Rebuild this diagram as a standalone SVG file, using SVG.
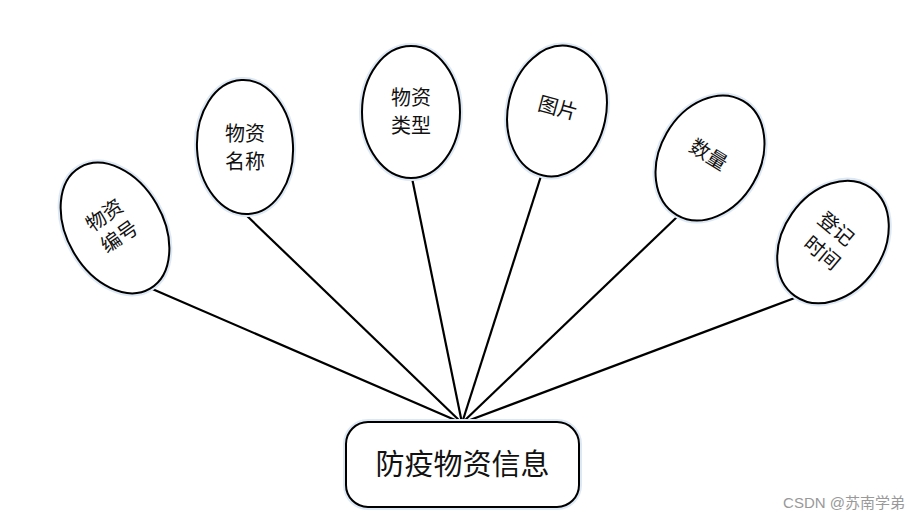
<svg xmlns="http://www.w3.org/2000/svg" width="920" height="521" viewBox="0 0 920 521">
<style>
.e{fill:#fff;stroke:#000;stroke-width:2}
.g{fill:none;stroke:#dde8f5;stroke-width:6}
.t{font-family:"Noto Sans CJK SC","Liberation Sans",sans-serif;font-size:20px;fill:#111;text-anchor:middle}
.c line{stroke:#000;stroke-width:2.2}
</style>
<rect width="920" height="521" fill="#fff"/>
<g class="c" id="connectors">
<line x1="462" y1="423" x2="150" y2="288"/>
<line x1="462" y1="423" x2="245" y2="214"/>
<line x1="462" y1="423" x2="412" y2="178"/>
<line x1="462" y1="423" x2="541" y2="176"/>
<line x1="462" y1="423" x2="678" y2="216"/>
<line x1="462" y1="423" x2="800" y2="296"/>
</g>
<g id="n1">
<ellipse class="g" cx="115" cy="228" rx="70" ry="48" transform="rotate(60 115 228)"/>
<ellipse class="e" cx="115" cy="228" rx="70" ry="48" transform="rotate(60 115 228)"/>
<g transform="translate(112,226) rotate(-35)"><text class="t" y="-6">物资</text><text class="t" y="20">编号</text></g>
</g>
<g id="n2" transform="translate(245,147)">
<ellipse class="g" rx="48" ry="67" transform="rotate(-3)"/>
<ellipse class="e" rx="48" ry="67" transform="rotate(-3)"/>
<text class="t" y="-6">物资</text><text class="t" y="22">名称</text>
</g>
<g id="n3" transform="translate(411,112)">
<ellipse class="g" rx="49" ry="66"/>
<ellipse class="e" rx="49" ry="66"/>
<text class="t" y="-7">物资</text><text class="t" y="21">类型</text>
</g>
<g id="n4" transform="translate(557,111)">
<ellipse class="g" rx="49" ry="66" transform="rotate(12)"/>
<ellipse class="e" rx="49" ry="66" transform="rotate(12)"/>
<g transform="rotate(15)"><text class="t" y="4">图片</text></g>
</g>
<g id="n5" transform="translate(710,158)">
<ellipse class="g" rx="50" ry="66" transform="rotate(30)"/>
<ellipse class="e" rx="50" ry="66" transform="rotate(30)"/>
<g transform="rotate(32)"><text class="t" x="-3" y="5">数量</text></g>
</g>
<g id="n6">
<ellipse class="g" cx="833" cy="242" rx="50" ry="66" transform="rotate(35 833 242)"/>
<ellipse class="e" cx="833" cy="242" rx="50" ry="66" transform="rotate(35 833 242)"/>
<text class="t" transform="translate(836,229) rotate(40)" y="7">登记</text>
<text class="t" transform="translate(822,253) rotate(40)" y="7">时间</text>
</g>
<g id="main">
<rect x="346" y="422" width="233" height="85" rx="22" fill="none" stroke="#dde8f5" stroke-width="6"/>
<rect x="346" y="422" width="233" height="85" rx="22" fill="#fff" stroke="#000" stroke-width="2"/>
<text x="462.500" y="475" font-family="'Noto Sans CJK SC','Liberation Sans',sans-serif" font-size="29" text-anchor="middle" fill="#111">防疫物资信息</text>
</g>
<text x="905" y="508" font-family="'Liberation Sans','Noto Sans CJK SC',sans-serif" font-size="15" text-anchor="end" fill="#999">CSDN @苏南学弟</text>
</svg>
